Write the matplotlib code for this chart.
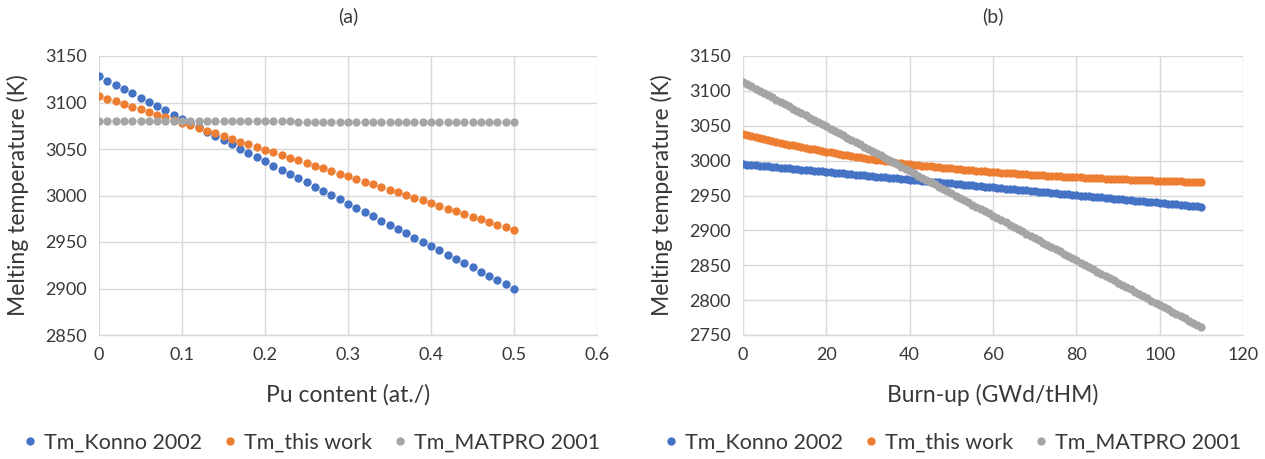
#!/usr/bin/env python3
"""Two-panel melting temperature chart: (a) vs Pu content, (b) vs burn-up."""
import matplotlib
matplotlib.use("Agg")
import matplotlib.pyplot as plt
from matplotlib.lines import Line2D

W, H = 1265, 459

BLUE = "#4472C4"
ORANGE = "#ED7D31"
GREY = "#A5A5A5"
GRID = "#D9D9D9"
TEXT = "#383838"

SERIES = ["Tm_Konno 2002", "Tm_this work", "Tm_MATPRO 2001"]

# ---- panel (a): Pu content (at./) ----
pu_content = [
    0.00, 0.01, 0.02, 0.03, 0.04, 0.05, 0.06, 0.07, 0.08, 0.09,
    0.10, 0.11, 0.12, 0.13, 0.14, 0.15, 0.16, 0.17, 0.18, 0.19,
    0.20, 0.21, 0.22, 0.23, 0.24, 0.25, 0.26, 0.27, 0.28, 0.29,
    0.30, 0.31, 0.32, 0.33, 0.34, 0.35, 0.36, 0.37, 0.38, 0.39,
    0.40, 0.41, 0.42, 0.43, 0.44, 0.45, 0.46, 0.47, 0.48, 0.49,
    0.50,
]
a_konno = [
    3128.0, 3123.4, 3118.9, 3114.3, 3109.8, 3105.2, 3100.6, 3096.1, 3091.5, 3087.0,
    3082.4, 3077.8, 3073.3, 3068.7, 3064.2, 3059.6, 3055.0, 3050.5, 3045.9, 3041.4,
    3036.8, 3032.2, 3027.7, 3023.1, 3018.6, 3014.0, 3009.4, 3004.9, 3000.3, 2995.8,
    2991.2, 2986.6, 2982.1, 2977.5, 2973.0, 2968.4, 2963.8, 2959.3, 2954.7, 2950.2,
    2945.6, 2941.0, 2936.5, 2931.9, 2927.4, 2922.8, 2918.2, 2913.7, 2909.1, 2904.6,
    2900.0,
]
a_this_work = [
    3107.0, 3104.1, 3101.2, 3098.4, 3095.5, 3092.6, 3089.7, 3086.8, 3084.0, 3081.1,
    3078.2, 3075.3, 3072.4, 3069.6, 3066.7, 3063.8, 3060.9, 3058.0, 3055.2, 3052.3,
    3049.4, 3046.5, 3043.6, 3040.8, 3037.9, 3035.0, 3032.1, 3029.2, 3026.4, 3023.5,
    3020.6, 3017.7, 3014.8, 3012.0, 3009.1, 3006.2, 3003.3, 3000.4, 2997.6, 2994.7,
    2991.8, 2988.9, 2986.0, 2983.2, 2980.3, 2977.4, 2974.5, 2971.6, 2968.8, 2965.9,
    2963.0,
]
a_matpro = [
    3080.5, 3080.5, 3080.4, 3080.4, 3080.3, 3080.3, 3080.3, 3080.2, 3080.2, 3080.1,
    3080.1, 3080.1, 3080.0, 3080.0, 3079.9, 3079.9, 3079.9, 3079.8, 3079.8, 3079.7,
    3079.7, 3079.7, 3079.6, 3079.6, 3079.5, 3079.5, 3079.5, 3079.4, 3079.4, 3079.3,
    3079.3, 3079.3, 3079.2, 3079.2, 3079.1, 3079.1, 3079.1, 3079.0, 3079.0, 3078.9,
    3078.9, 3078.9, 3078.8, 3078.8, 3078.7, 3078.7, 3078.7, 3078.6, 3078.6, 3078.5,
    3078.5,
]

# ---- panel (b): burn-up (GWd/tHM) ----
burnup = list(range(0, 111))
b_konno = [
    2995.0, 2994.4, 2993.9, 2993.3, 2992.8, 2992.2, 2991.7, 2991.1, 2990.6, 2990.0,
    2989.5, 2988.9, 2988.3, 2987.8, 2987.2, 2986.7, 2986.1, 2985.6, 2985.0, 2984.5,
    2983.9, 2983.3, 2982.8, 2982.2, 2981.7, 2981.1, 2980.6, 2980.0, 2979.5, 2978.9,
    2978.4, 2977.8, 2977.2, 2976.7, 2976.1, 2975.6, 2975.0, 2974.5, 2973.9, 2973.4,
    2972.8, 2972.2, 2971.7, 2971.1, 2970.6, 2970.0, 2969.5, 2968.9, 2968.4, 2967.8,
    2967.3, 2966.7, 2966.1, 2965.6, 2965.0, 2964.5, 2963.9, 2963.4, 2962.8, 2962.3,
    2961.7, 2961.1, 2960.6, 2960.0, 2959.5, 2958.9, 2958.4, 2957.8, 2957.3, 2956.7,
    2956.2, 2955.6, 2955.0, 2954.5, 2953.9, 2953.4, 2952.8, 2952.3, 2951.7, 2951.2,
    2950.6, 2950.0, 2949.5, 2948.9, 2948.4, 2947.8, 2947.3, 2946.7, 2946.2, 2945.6,
    2945.1, 2944.5, 2943.9, 2943.4, 2942.8, 2942.3, 2941.7, 2941.2, 2940.6, 2940.1,
    2939.5, 2938.9, 2938.4, 2937.8, 2937.3, 2936.7, 2936.2, 2935.6, 2935.1, 2934.5,
    2934.0,
]
b_this_work = [
    3038.0, 3036.5, 3035.0, 3033.6, 3032.2, 3030.8, 3029.4, 3028.1, 3026.8, 3025.5,
    3024.2, 3023.0, 3021.8, 3020.6, 3019.4, 3018.2, 3017.1, 3016.0, 3014.9, 3013.8,
    3012.8, 3011.7, 3010.7, 3009.7, 3008.7, 3007.7, 3006.7, 3005.8, 3004.8, 3003.9,
    3003.0, 3002.1, 3001.2, 3000.4, 2999.6, 2998.8, 2998.0, 2997.2, 2996.4, 2995.7,
    2995.0, 2994.3, 2993.6, 2993.0, 2992.3, 2991.7, 2991.1, 2990.5, 2989.9, 2989.3,
    2988.8, 2988.2, 2987.7, 2987.1, 2986.6, 2986.1, 2985.6, 2985.1, 2984.7, 2984.2,
    2983.8, 2983.3, 2982.9, 2982.4, 2982.0, 2981.6, 2981.2, 2980.8, 2980.4, 2980.0,
    2979.6, 2979.2, 2978.9, 2978.5, 2978.1, 2977.8, 2977.5, 2977.1, 2976.8, 2976.5,
    2976.2, 2975.9, 2975.6, 2975.3, 2975.0, 2974.8, 2974.5, 2974.2, 2974.0, 2973.7,
    2973.5, 2973.2, 2973.0, 2972.7, 2972.5, 2972.3, 2972.0, 2971.8, 2971.6, 2971.4,
    2971.2, 2971.0, 2970.8, 2970.6, 2970.4, 2970.2, 2970.0, 2969.8, 2969.6, 2969.4,
    2969.2,
]
b_matpro = [
    3113.0, 3109.8, 3106.6, 3103.4, 3100.2, 3097.0, 3093.8, 3090.6, 3087.4, 3084.2,
    3081.0, 3077.8, 3074.6, 3071.4, 3068.2, 3065.0, 3061.8, 3058.6, 3055.4, 3052.2,
    3049.0, 3045.8, 3042.6, 3039.4, 3036.2, 3033.0, 3029.8, 3026.6, 3023.4, 3020.2,
    3017.0, 3013.8, 3010.6, 3007.4, 3004.2, 3001.0, 2997.8, 2994.6, 2991.4, 2988.2,
    2985.0, 2981.8, 2978.6, 2975.4, 2972.2, 2969.0, 2965.8, 2962.6, 2959.4, 2956.2,
    2953.0, 2949.8, 2946.6, 2943.4, 2940.2, 2937.0, 2933.8, 2930.6, 2927.4, 2924.2,
    2921.0, 2917.8, 2914.6, 2911.4, 2908.2, 2905.0, 2901.8, 2898.6, 2895.4, 2892.2,
    2889.0, 2885.8, 2882.6, 2879.4, 2876.2, 2873.0, 2869.8, 2866.6, 2863.4, 2860.2,
    2857.0, 2853.8, 2850.6, 2847.4, 2844.2, 2841.0, 2837.8, 2834.6, 2831.4, 2828.2,
    2825.0, 2821.8, 2818.6, 2815.4, 2812.2, 2809.0, 2805.8, 2802.6, 2799.4, 2796.2,
    2793.0, 2789.8, 2786.6, 2783.4, 2780.2, 2777.0, 2773.8, 2770.6, 2767.4, 2764.2,
    2761.0,
]

a_xticks = [0, 0.1, 0.2, 0.3, 0.4, 0.5, 0.6]
a_xticklabels = ["0", "0.1", "0.2", "0.3", "0.4", "0.5", "0.6"]
a_yticks = [2850, 2900, 2950, 3000, 3050, 3100, 3150]
b_xticks = [0, 20, 40, 60, 80, 100, 120]
b_yticks = [2750, 2800, 2850, 2900, 2950, 3000, 3050, 3100, 3150]


def px_axes(fig, left, top, right, bottom):
    return fig.add_axes([left / W, 1 - bottom / H, (right - left) / W, (bottom - top) / H])


def style_axes(ax, xticks, xlabels, yticks, xlabel, left, right):
    ax.set_xlim(xticks[0], xticks[-1])
    ax.set_ylim(yticks[0], yticks[-1])
    ax.set_xticks(xticks)
    ax.set_xticklabels(xlabels)
    ax.set_yticks(yticks)
    ax.grid(True, color=GRID, linewidth=1.0)
    ax.set_axisbelow(True)
    for side in ("top", "right", "left"):
        ax.spines[side].set_visible(False)
    ax.spines["bottom"].set_color(GRID)
    ax.spines["bottom"].set_linewidth(1.0)
    ax.tick_params(length=0, labelsize=13, colors=TEXT, pad=9)
    ax.set_xlabel(xlabel, fontsize=16.5, color=TEXT, va="center")
    ax.set_ylabel("Melting temperature (K)", fontsize=16.5, color=TEXT, va="center")
    ax.xaxis.set_label_coords(0.5, -(395 - 335) / 279)
    ax.yaxis.set_label_coords((18 - left) / (right - left), 0.5)


def add_legend(fig, cx):
    handles = [Line2D([], [], linestyle="none", marker="o", markersize=5,
                      color=c) for c in (BLUE, ORANGE, GREY)]
    fig.legend(handles, SERIES, loc="center", bbox_to_anchor=(cx / W, 1 - 443 / H),
               ncol=3, frameon=False, fontsize=15.5, handlelength=0.6,
               handletextpad=0.35, columnspacing=1.0, labelcolor=TEXT)


def main():
    plt.rcParams.update({
        "font.family": ["Lato", "DejaVu Sans"],
    })
    fig = plt.figure(figsize=(W / 100, H / 100), dpi=100)
    ms = 6.0

    ax1 = px_axes(fig, 99, 56, 597, 335)
    ax1.plot(pu_content, a_konno, "o", color=BLUE, markersize=ms, markeredgewidth=0)
    ax1.plot(pu_content, a_this_work, "o", color=ORANGE, markersize=ms, markeredgewidth=0)
    ax1.plot(pu_content, a_matpro, "o", color=GREY, markersize=ms, markeredgewidth=0)
    style_axes(ax1, a_xticks, a_xticklabels, a_yticks, "Pu content (at./)", 99, 597)

    ax2 = px_axes(fig, 743, 56, 1243, 335)
    ax2.plot(burnup, b_konno, "o", color=BLUE, markersize=ms, markeredgewidth=0)
    ax2.plot(burnup, b_this_work, "o", color=ORANGE, markersize=ms, markeredgewidth=0)
    ax2.plot(burnup, b_matpro, "o", color=GREY, markersize=ms, markeredgewidth=0)
    style_axes(ax2, b_xticks, [str(t) for t in b_xticks], b_yticks,
               "Burn-up (GWd/tHM)", 743 - 644, 1243 - 644)

    fig.text(348 / W, 1 - 16 / H, "(a)", ha="center", va="center", fontsize=14, color=TEXT)
    fig.text(993 / W, 1 - 16 / H, "(b)", ha="center", va="center", fontsize=14, color=TEXT)

    add_legend(fig, 312)
    add_legend(fig, 953)

    fig.savefig("out.png", dpi=100)
    plt.close(fig)


if __name__ == "__main__":
    main()
